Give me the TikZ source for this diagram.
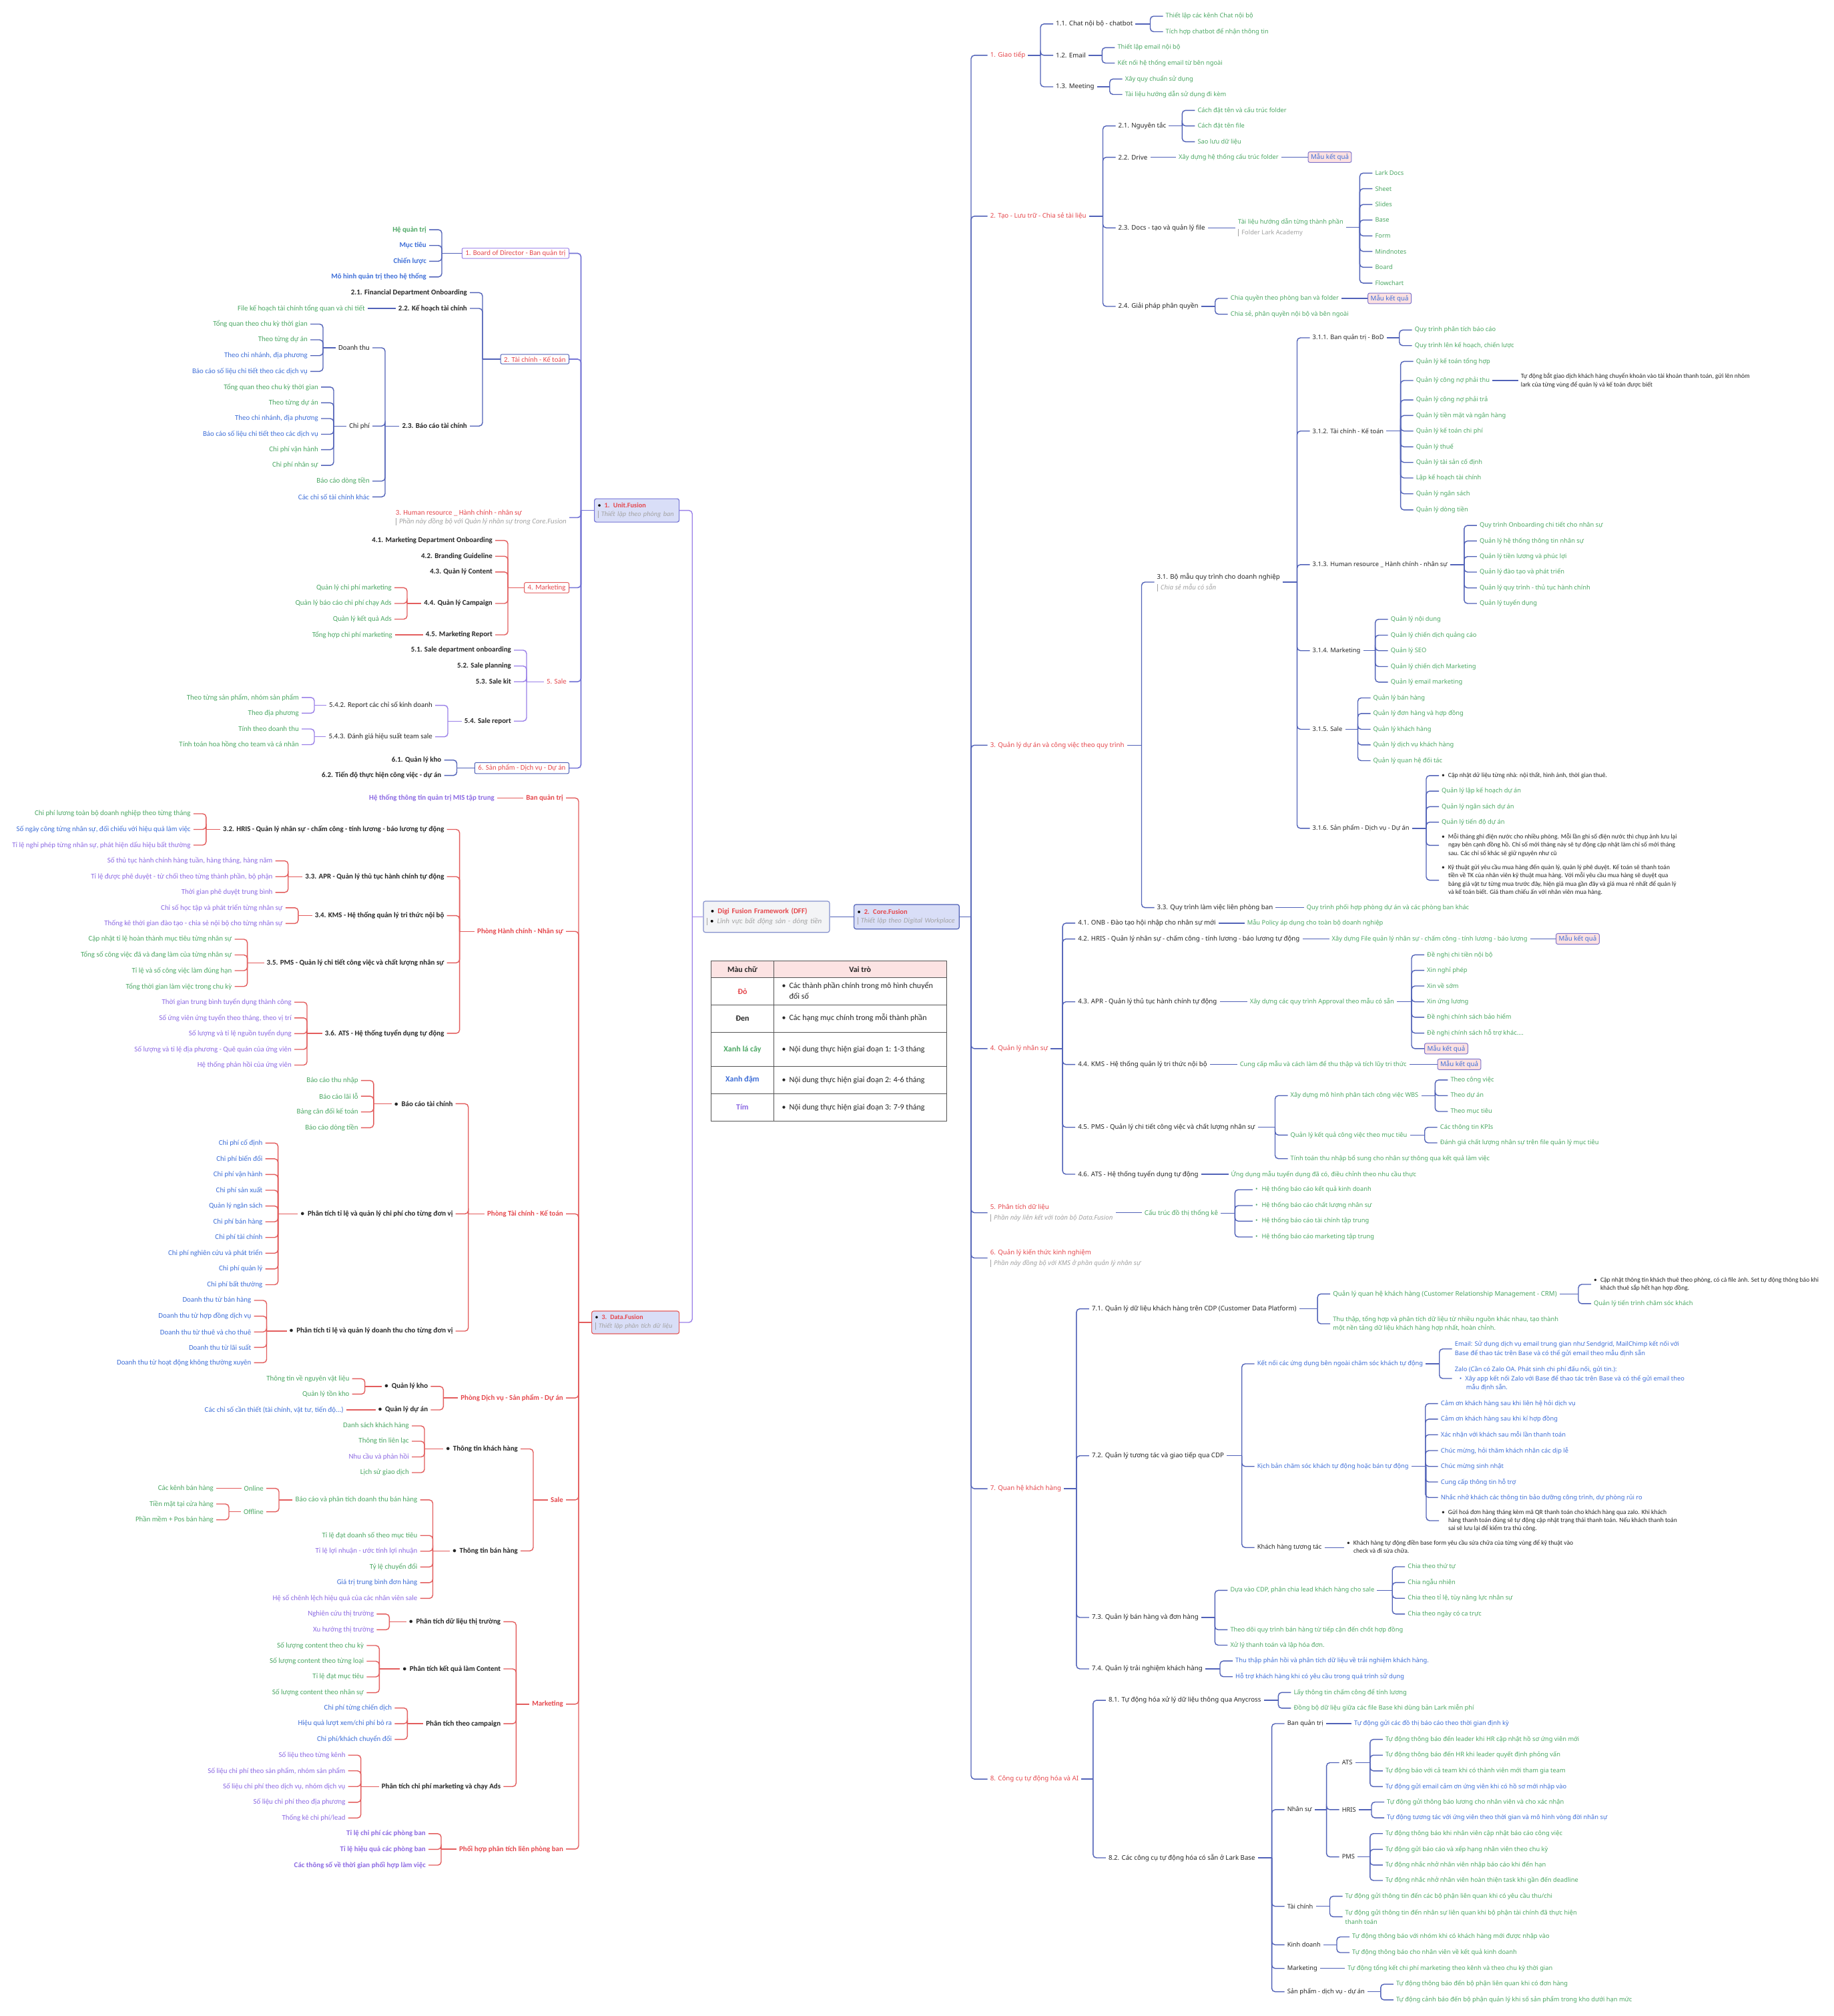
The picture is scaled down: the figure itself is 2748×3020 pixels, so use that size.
\documentclass[tikz,border=0pt]{standalone}
\usepackage{fontspec}
\setmainfont{Noto Sans}
\newfontfamily\carl{Carlito}
\usetikzlibrary{calc}

\definecolor{mred}{HTML}{E5484D}
\definecolor{mgreen}{HTML}{4DA865}
\definecolor{mblue}{HTML}{3F6FD8}
\definecolor{mpurple}{HTML}{8C6AE3}
\definecolor{mdark}{HTML}{262626}
\definecolor{mgray}{HTML}{A3A3A3}
\definecolor{lblue}{HTML}{5162B8}
\definecolor{lunit}{HTML}{7474D6}
\definecolor{lred}{HTML}{E35D5D}
\definecolor{lpurp}{HTML}{9A80E8}
\definecolor{hubfill}{HTML}{D9DEF7}
\definecolor{dfffill}{HTML}{F3F4F6}
\definecolor{kfill}{HTML}{FDE1E1}
\definecolor{kbord}{HTML}{7E74CC}
\definecolor{thead}{HTML}{FCE3E3}
\definecolor{tline}{HTML}{555555}

\newcommand{\lfont}{\carl\fontsize{10.9}{13}\selectfont}
\newcommand{\rfont}{\fontsize{9.3}{13.8}\selectfont}
\newcommand{\rbfont}{\fontsize{9.7}{13.8}\selectfont\bfseries}
\newcommand{\nfont}{\carl\fontsize{9.6}{12.3}\selectfont}
\newcommand{\tfont}{\carl\fontsize{12}{16}\selectfont}
\newcommand{\nbar}{{\color{mgray}\rule[-2.5pt]{1.2pt}{11pt}}\hspace{4pt}}
\newcommand{\bul}[1]{\begin{tabular}[t]{@{}l@{\hspace{5pt}}l@{}}\textbullet&\begin{tabular}[t]{@{}l@{}}#1\end{tabular}\end{tabular}}

% children to the right / to the left of a parent, bracket #1 away from them
\newcommand{\rkids}[4][19pt]{%
  \foreach \k [count=\kn] in {#4}{%
    \ifnum\kn=1 \draw[#2] (#3.east) -- ($(\k.west |- #3.east)+(-#1,0)$);\fi
    \draw[#2,rounded corners=5pt] ($(\k.west |- #3.east)+(-#1,0)$) |- (\k.west);}}
\newcommand{\lkids}[4][19pt]{%
  \foreach \k [count=\kn] in {#4}{%
    \ifnum\kn=1 \draw[#2] (#3.west) -- ($(\k.east |- #3.west)+(#1,0)$);\fi
    \draw[#2,rounded corners=5pt] ($(\k.east |- #3.west)+(#1,0)$) |- (\k.east);}}
\newcommand{\rlink}[3]{\draw[#1] (#2.east) -- (#2.east -| #3.west);}
\newcommand{\llink}[3]{\draw[#1] (#2.west) -- (#2.west -| #3.east);}

\tikzset{
  lt/.style={anchor=east, xshift=4pt, inner xsep=4pt, inner ysep=1pt, font=\lfont},
  ltb/.style={lt, font=\lfont\bfseries},
  rt/.style={anchor=west, xshift=-4pt, inner xsep=4pt, inner ysep=1pt, font=\rfont},
  rtb/.style={rt, font=\rbfont},
  note/.style={rt, font=\nfont, text=mdark},
  cr/.style={text=mred}, cg/.style={text=mgreen}, cb/.style={text=mblue},
  cp/.style={text=mpurple}, ck/.style={text=mdark},
  lnb/.style={draw=lblue, line width=1.4pt},
  lnu/.style={draw=lunit, line width=1.6pt},
  lnr/.style={draw=lred, line width=1.4pt},
  lnp/.style={draw=lpurp, line width=1.4pt},
  hub/.style={anchor=west, fill=hubfill, rounded corners=3pt, line width=1.2pt,
    inner xsep=5pt, inner ysep=3pt, align=left, font=\lfont},
  ubox/.style={anchor=east, fill=white, rounded corners=2pt, line width=1pt,
    text=mred, font=\lfont, inner xsep=5pt, inner ysep=3pt},
  kbox/.style={anchor=west, draw=kbord, fill=kfill, rounded corners=2.5pt, line width=1pt,
    text=mblue, font=\rbfont, inner xsep=4pt, inner ysep=2.5pt},
  tcell/.style={font=\tfont, text=mdark},
}

\begin{document}
\begin{tikzpicture}[x=1pt,y=-1pt]
\useasboundingbox (0,0) rectangle (2748,3020);
\fill[white] (0,0) rectangle (2748,3020);

% centre boxes
\node[hub, fill=dfffill, draw=lblue!70, text width=179pt, minimum height=46.7pt,
  font=\carl\fontsize{11}{15}\selectfont] (dff) at (1053.3,1373.3)
  {\hspace*{6pt}\textbullet\hspace{5pt}{\bfseries\color{mred}Digi Fusion Framework (DFF)}\\
   \nbar\textbullet\hspace{5pt}{\color{mgray}\itshape Lĩnh vực bất động sản - dòng tiền}};
\node[hub, draw=lblue, text width=147.7pt, minimum height=36.7pt,
  font=\carl\fontsize{10.5}{13}\selectfont] (core) at (1279,1373.3)
  {\textbullet\hspace{5pt}{\bfseries\color{mred}2. Core.Fusion}\\
   \nbar{\color{mgray}\itshape Thiết lập theo Digital Workplace}};
\node[hub, draw=lunit, text width=117pt, minimum height=35pt,
  font=\carl\fontsize{10.3}{13}\selectfont] (unit) at (890,764.6)
  {\textbullet\hspace{5pt}{\bfseries\color{mred}1. Unit.Fusion}\\
   \nbar{\color{mgray}\itshape Thiết lập theo phòng ban}};
\node[hub, draw=lred, text width=121pt, minimum height=34pt,
  font=\carl\fontsize{10}{13}\selectfont] (data) at (886,1981)
  {\textbullet\hspace{5pt}{\bfseries\color{mred}3. Data.Fusion}\\
   \nbar{\color{mgray}\itshape Thiết lập phân tích dữ liệu}};
\rlink{lnb}{dff}{core}
\lkids{lnp}{dff}{unit,data}

% legend table
\fill[thead] (1065.7,1439.3) rectangle (1418.3,1464.7);
\draw[tline, line width=1pt] (1065.7,1439.3) rectangle (1418.3,1679.3);
\draw[tline, line width=1pt] (1159,1439.3) -- (1159,1679.3);
\foreach \yy in {1464.7,1505,1546.3,1597.3,1638.3}
  \draw[tline, line width=1pt] (1065.7,\yy) -- (1418.3,\yy);
\node[tcell, font=\tfont\bfseries] (th1) at (1112.4,1452) {Màu chữ};
\node[tcell, font=\tfont\bfseries] (th2) at (1288.7,1452) {Vai trò};
\node[tcell, font=\tfont\bfseries, text=mred] (tc1) at (1112.4,1485.2) {Đỏ};
\node[tcell, font=\tfont\bfseries] (tc2) at (1112.4,1525.7) {Đen};
\node[tcell, font=\tfont\bfseries, text=mgreen] (tc3) at (1112.4,1571.8) {Xanh lá cây};
\node[tcell, font=\tfont\bfseries, text=mblue] (tc4) at (1112.4,1617.8) {Xanh đậm};
\node[tcell, font=\tfont\bfseries, text=mpurple] (tc5) at (1112.4,1658.8) {Tím};
\node[tcell, anchor=west] (tv1) at (1168,1485.2) {\bul{Các thành phần chính trong mô hình chuyển\\đổi số}};
\node[tcell, anchor=west] (tv2) at (1168,1525.7) {\bul{Các hạng mục chính trong mỗi thành phần}};
\node[tcell, anchor=west] (tv3) at (1168,1571.8) {\bul{Nội dung thực hiện giai đoạn 1: 1-3 tháng}};
\node[tcell, anchor=west] (tv4) at (1168,1617.8) {\bul{Nội dung thực hiện giai đoạn 2: 4-6 tháng}};
\node[tcell, anchor=west] (tv5) at (1168,1658.8) {\bul{Nội dung thực hiện giai đoạn 3: 7-9 tháng}};

% ===== Unit.Fusion =====
\node[ubox, draw=lpurp] (ub) at (853,379.5) {1. Board of Director - Ban quản trị};
\node[ubox, draw=lblue] (uf) at (853,538) {2. Tài chính - Kế toán};
\node[lt, cr, align=left] (uh) at (849,775.4) {3. Human resource \_ Hành chính - nhân sự\\
  \nbar{\color{mgray}\itshape Phần này đồng bộ với Quản lý nhân sự trong Core.Fusion}};
\node[ubox, draw=lred] (um) at (853,880.4) {4. Marketing};
\node[lt, cr] (us) at (849,1021.2) {5. Sale};
\node[ubox, draw=lblue] (up) at (853,1150.6) {6. Sản phẩm - Dịch vụ - Dự án};

\node[ltb, cg] (ub1) at (639,344.1) {Hệ quản trị};
\node[ltb, cb] (ub2) at (639,367.7) {Mục tiêu};
\node[ltb, cb] (ub3) at (639,391.3) {Chiến lược};
\node[ltb, cb] (ub4) at (639,414.8) {Mô hình quản trị theo hệ thống};

\node[ltb, ck] (uf1) at (700,438.4) {2.1. Financial Department Onboarding};
\node[ltb, ck] (uf2) at (700,462) {2.2. Kế hoạch tài chính};
\node[ltb, ck] (uf3) at (700,638.2) {2.3. Báo cáo tài chính};
\node[lt, cg] (uf21) at (547,462) {File kế hoạch tài chính tổng quan và chi tiết};
\node[lt, ck] (uf31) at (554,521) {Doanh thu};
\node[lt, ck] (uf32) at (554,638.2) {Chi phí};
\node[lt, cg] (uf33) at (554,720.7) {Báo cáo dòng tiền};
\node[lt, cb] (uf34) at (554,744.3) {Các chỉ số tài chính khác};
\node[lt, cg] (uf311) at (461,485.5) {Tổng quan theo chu kỳ thời gian};
\node[lt, cg] (uf312) at (461,509) {Theo từng dự án};
\node[lt, cb] (uf313) at (461,532.7) {Theo chi nhánh, địa phương};
\node[lt, cb] (uf314) at (461,556.3) {Báo cáo số liệu chi tiết theo các dịch vụ};
\node[lt, cg] (uf321) at (477,579.8) {Tổng quan theo chu kỳ thời gian};
\node[lt, cg] (uf322) at (477,603.4) {Theo từng dự án};
\node[lt, cb] (uf323) at (477,627) {Theo chi nhánh, địa phương};
\node[lt, cb] (uf324) at (477,650.5) {Báo cáo số liệu chi tiết theo các dịch vụ};
\node[lt, cg] (uf325) at (477,673.6) {Chi phí vận hành};
\node[lt, cg] (uf326) at (477,697.1) {Chi phí nhân sự};

\node[ltb, ck] (um1) at (738,809.6) {4.1. Marketing Department Onboarding};
\node[ltb, ck] (um2) at (738,833.2) {4.2. Branding Guideline};
\node[ltb, ck] (um3) at (738,856.8) {4.3. Quản lý Content};
\node[ltb, ck] (um4) at (738,904) {4.4. Quản lý Campaign};
\node[ltb, ck] (um5) at (738,951) {4.5. Marketing Report};
\node[lt, cg] (um41) at (587,880.4) {Quản lý chi phí marketing};
\node[lt, cg] (um42) at (587,904) {Quản lý báo cáo chi phí chạy Ads};
\node[lt, cg] (um43) at (587,927.5) {Quản lý kết quả Ads};
\node[lt, cg] (um51) at (588,951) {Tổng hợp chi phí marketing};

\node[ltb, ck] (us1) at (766,974) {5.1. Sale department onboarding};
\node[ltb, ck] (us2) at (766,997.7) {5.2. Sale planning};
\node[ltb, ck] (us3) at (766,1021.2) {5.3. Sale kit};
\node[ltb, ck] (us4) at (766,1080.2) {5.4. Sale report};
\node[lt, ck] (us41) at (648,1056.6) {5.4.2. Report các chỉ số kinh doanh};
\node[lt, ck] (us42) at (648,1103.7) {5.4.3. Đánh giá hiệu suất team sale};
\node[lt, cg] (us411) at (448,1044.8) {Theo từng sản phẩm, nhóm sản phẩm};
\node[lt, cg] (us412) at (448,1068.4) {Theo địa phương};
\node[lt, cg] (us421) at (448,1092) {Tính theo doanh thu};
\node[lt, cg] (us422) at (448,1115.5) {Tính toán hoa hồng cho team và cá nhân};

\node[ltb, ck] (up1) at (661.5,1138.6) {6.1. Quản lý kho};
\node[ltb, ck] (up2) at (661.5,1161.6) {6.2. Tiến độ thực hiện công việc - dự án};

\lkids[17.5pt]{lnu}{unit}{ub,uf,uh,um,us,up}
\lkids{lnb}{ub}{ub1,ub2,ub3,ub4}
\lkids{lnb}{uf}{uf1,uf2,uf3}
\llink{lnb}{uf2}{uf21}
\lkids{lnb}{uf3}{uf31,uf32,uf33,uf34}
\lkids{lnb}{uf31}{uf311,uf312,uf313,uf314}
\lkids{lnb}{uf32}{uf321,uf322,uf323,uf324,uf325,uf326}
\lkids{lnr}{um}{um1,um2,um3,um4,um5}
\lkids{lnr}{um4}{um41,um42,um43}
\llink{lnr}{um5}{um51}
\lkids{lnp}{us}{us1,us2,us3,us4}
\lkids{lnp}{us4}{us41,us42}
\lkids{lnp}{us41}{us411,us412}
\lkids{lnp}{us42}{us421,us422}
\lkids{lnb}{up}{up1,up2}

% ===== Data.Fusion =====
\node[ltb, cr] (dd1) at (844,1195.4) {Ban quản trị};
\node[ltb, cr] (dd2) at (844,1395.2) {Phòng Hành chính - Nhân sự};
\node[ltb, cr] (dd3) at (844,1818.4) {Phòng Tài chính - Kế toán};
\node[ltb, cr] (dd4) at (844,2094.1) {Phòng Dịch vụ - Sản phẩm - Dự án};
\node[ltb, cr] (dd5) at (844,2246.9) {Sale};
\node[ltb, cr] (dd6) at (844,2552.8) {Marketing};
\node[ltb, cr] (dd7) at (844,2769.9) {Phối hợp phân tích liên phòng ban};

\node[ltb, cp] (dd11) at (741,1195.4) {Hệ thống thông tin quản trị MIS tập trung};

\node[ltb, ck] (dd21) at (665.6,1242.5) {3.2. HRIS - Quản lý nhân sự - chấm công - tính lương - báo lương tự động};
\node[ltb, ck] (dd22) at (665.6,1313.2) {3.3. APR - Quản lý thủ tục hành chính tự động};
\node[ltb, ck] (dd23) at (665.6,1371.6) {3.4. KMS - Hệ thống quản lý tri thức nội bộ};
\node[ltb, ck] (dd24) at (665.6,1442.3) {3.5. PMS - Quản lý chi tiết công việc và chất lượng nhân sự};
\node[ltb, ck] (dd25) at (665.6,1547.9) {3.6. ATS - Hệ thống tuyển dụng tự động};
\node[lt, cg] (dd211) at (285.8,1219) {Chi phí lương toàn bộ doanh nghiệp theo từng tháng};
\node[lt, cb] (dd212) at (285.8,1242.5) {Số ngày công từng nhân sự, đối chiếu với hiệu quả làm việc};
\node[lt, cp] (dd213) at (285.8,1266) {Tỉ lệ nghỉ phép từng nhân sự, phát hiện dấu hiệu bất thường};
\node[lt, cp] (dd221) at (408.7,1289.6) {Số thủ tục hành chính hàng tuần, hàng tháng, hàng năm};
\node[lt, cp] (dd222) at (408.7,1313.2) {Tỉ lệ được phê duyệt - từ chối theo từng thành phần, bộ phận};
\node[lt, cp] (dd223) at (408.7,1336.8) {Thời gian phê duyệt trung bình};
\node[lt, cp] (dd231) at (423.8,1359.8) {Chỉ số học tập và phát triển từng nhân sự};
\node[lt, cp] (dd232) at (423.8,1383.4) {Thống kê thời gian đào tạo - chia sẻ nội bộ cho từng nhân sự};
\node[lt, cg] (dd241) at (347.6,1407) {Cập nhật tỉ lệ hoàn thành mục tiêu từng nhân sự};
\node[lt, cg] (dd242) at (347.6,1430.5) {Tổng số công việc đã và đang làm của từng nhân sự};
\node[lt, cg] (dd243) at (347.6,1454) {Tỉ lệ và số công việc làm đúng hạn};
\node[lt, cg] (dd244) at (347.6,1477.7) {Tổng thời gian làm việc trong chu kỳ};
\node[lt, cp] (dd251) at (437,1501.2) {Thời gian trung bình tuyển dụng thành công};
\node[lt, cp] (dd252) at (437,1524.8) {Số ứng viên ứng tuyển theo tháng, theo vị trí};
\node[lt, cp] (dd253) at (437,1548.4) {Số lượng và tỉ lệ nguồn tuyển dụng};
\node[lt, cp] (dd254) at (437,1572) {Số lượng và tỉ lệ địa phương - Quê quán của ứng viên};
\node[lt, cp] (dd255) at (437,1595.5) {Hệ thống phản hồi của ứng viên};

\node[ltb, ck] (dd31) at (678.7,1653.4) {\textbullet\hspace{5pt}Báo cáo tài chính};
\node[ltb, ck] (dd32) at (678.7,1818.4) {\textbullet\hspace{5pt}Phân tích tỉ lệ và quản lý chi phí cho từng đơn vị};
\node[ltb, ck] (dd33) at (678.7,1994) {\textbullet\hspace{5pt}Phân tích tỉ lệ và quản lý doanh thu cho từng đơn vị};
\node[lt, cg] (dd311) at (536.8,1618.6) {Báo cáo thu nhập};
\node[lt, cg] (dd312) at (536.8,1642.1) {Báo cáo lãi lỗ};
\node[lt, cg] (dd313) at (536.8,1665.7) {Bảng cân đối kế toán};
\node[lt, cg] (dd314) at (536.8,1689.3) {Báo cáo dòng tiền};
\node[lt, cb] (dd321) at (393.6,1712.3) {Chi phí cố định};
\node[lt, cb] (dd322) at (393.6,1735.9) {Chi phí biến đổi};
\node[lt, cb] (dd323) at (393.6,1759.4) {Chi phí vận hành};
\node[lt, cb] (dd324) at (393.6,1783) {Chi phí sản xuất};
\node[lt, cb] (dd325) at (393.6,1806.6) {Quản lý ngân sách};
\node[lt, cb] (dd326) at (393.6,1830.2) {Chi phí bán hàng};
\node[lt, cb] (dd327) at (393.6,1853.7) {Chi phí tài chính};
\node[lt, cb] (dd328) at (393.6,1877.3) {Chi phí nghiên cứu và phát triển};
\node[lt, cb] (dd329) at (393.6,1900.9) {Chi phí quản lý};
\node[lt, cb] (dd3210) at (393.6,1924.5) {Chi phí bất thường};
\node[lt, cb] (dd331) at (376.5,1948) {Doanh thu từ bán hàng};
\node[lt, cb] (dd332) at (376.5,1971.6) {Doanh thu từ hợp đồng dịch vụ};
\node[lt, cb] (dd333) at (376.5,1995.2) {Doanh thu từ thuê và cho thuê};
\node[lt, cb] (dd334) at (376.5,2018.3) {Doanh thu từ lãi suất};
\node[lt, cb] (dd335) at (376.5,2041.3) {Doanh thu từ hoạt động không thường xuyên};

\node[ltb, ck] (dd41) at (641.3,2076.9) {\textbullet\hspace{5pt}Quản lý kho};
\node[ltb, ck] (dd42) at (641.3,2112) {\textbullet\hspace{5pt}Quản lý dự án};
\node[lt, cg] (dd411) at (523.7,2065.4) {Thông tin về nguyên vật liệu};
\node[lt, cg] (dd412) at (523.7,2088.4) {Quản lý tồn kho};
\node[lt, cb] (dd421) at (515,2112) {Các chỉ số cần thiết (tài chính, vật tư, tiến độ...)};

\node[ltb, ck] (dd51) at (776,2170.5) {\textbullet\hspace{5pt}Thông tin khách hàng};
\node[ltb, ck] (dd52) at (776,2323.2) {\textbullet\hspace{5pt}Thông tin bán hàng};
\node[lt, cg] (dd511) at (613,2136) {Danh sách khách hàng};
\node[lt, cg] (dd512) at (613,2159) {Thông tin liên lạc};
\node[lt, cp] (dd513) at (613,2182.5) {Nhu cầu và phản hồi};
\node[lt, cg] (dd514) at (613,2206) {Lịch sử giao dịch};
\node[lt, cg] (dd521) at (625.5,2246.9) {Báo cáo và phân tích doanh thu bán hàng};
\node[lt, cg] (dd522) at (625.5,2300.2) {Tỉ lệ đạt doanh số theo mục tiêu};
\node[lt, cp] (dd523) at (625.5,2323.7) {Tỉ lệ lợi nhuận - ước tính lợi nhuận};
\node[lt, cg] (dd524) at (625.5,2347.3) {Tỷ lệ chuyển đổi};
\node[lt, cb] (dd525) at (625.5,2370.8) {Giá trị trung bình đơn hàng};
\node[lt, cp] (dd526) at (625.5,2394.4) {Hệ số chênh lệch hiệu quả của các nhân viên sale};
\node[lt, cg] (dd5211) at (395,2229.6) {Online};
\node[lt, cg] (dd5212) at (395,2264.6) {Offline};
\node[lt, cg] (dd5213) at (320,2229.6) {Các kênh bán hàng};
\node[lt, cg] (dd5214) at (320,2253) {Tiền mặt tại cửa hàng};
\node[lt, cg] (dd5215) at (320,2276.7) {Phần mềm + Pos bán hàng};

\node[ltb, ck] (dd61) at (750.3,2429.4) {\textbullet\hspace{5pt}Phân tích dữ liệu thị trường};
\node[ltb, ck] (dd62) at (750.3,2500) {\textbullet\hspace{5pt}Phân tích kết quả làm Content};
\node[ltb, ck] (dd63) at (750.3,2582.1) {Phân tích theo campaign};
\node[ltb, ck] (dd64) at (750.3,2676.2) {Phân tích chi phí marketing và chạy Ads};
\node[lt, cp] (dd611) at (560.4,2417.9) {Nghiên cứu thị trường};
\node[lt, cp] (dd612) at (560.4,2441.4) {Xu hướng thị trường};
\node[lt, cg] (dd621) at (545.3,2465) {Số lượng content theo chu kỳ};
\node[lt, cg] (dd622) at (545.3,2488.5) {Số lượng content theo từng loại};
\node[lt, cg] (dd623) at (545.3,2512) {Tỉ lệ đạt mục tiêu};
\node[lt, cg] (dd624) at (545.3,2535.6) {Số lượng content theo nhân sự};
\node[lt, cb] (dd631) at (587.4,2558.6) {Chi phí từng chiến dịch};
\node[lt, cb] (dd632) at (587.4,2582.1) {Hiệu quả lượt xem/chi phí bỏ ra};
\node[lt, cb] (dd633) at (587.4,2605.6) {Chi phí/khách chuyển đổi};
\node[lt, cp] (dd641) at (517.7,2629.2) {Số liệu theo từng kênh};
\node[lt, cp] (dd642) at (517.7,2652.7) {Số liệu chi phí theo sản phẩm, nhóm sản phẩm};
\node[lt, cp] (dd643) at (517.7,2676.2) {Số liệu chi phí theo dịch vụ, nhóm dịch vụ};
\node[lt, cp] (dd644) at (517.7,2699.8) {Số liệu chi phí theo địa phương};
\node[lt, cp] (dd645) at (517.7,2723.3) {Thống kê chi phí/lead};

\node[ltb, cp] (dd71) at (638,2746.9) {Tỉ lệ chi phí các phòng ban};
\node[ltb, cp] (dd72) at (638,2770.4) {Tỉ lệ hiệu quả các phòng ban};
\node[ltb, cp] (dd73) at (638,2794) {Các thông số về thời gian phối hợp làm việc};

\lkids{lnr}{data}{dd1,dd2,dd3,dd4,dd5,dd6,dd7}
\llink{lnr}{dd1}{dd11}
\lkids{lnr}{dd2}{dd21,dd22,dd23,dd24,dd25}
\lkids{lnr}{dd21}{dd211,dd212,dd213}
\lkids{lnr}{dd22}{dd221,dd222,dd223}
\lkids{lnr}{dd23}{dd231,dd232}
\lkids{lnr}{dd24}{dd241,dd242,dd243,dd244}
\lkids{lnr}{dd25}{dd251,dd252,dd253,dd254,dd255}
\lkids{lnr}{dd3}{dd31,dd32,dd33}
\lkids{lnr}{dd31}{dd311,dd312,dd313,dd314}
\lkids{lnr}{dd32}{dd321,dd322,dd323,dd324,dd325,dd326,dd327,dd328,dd329,dd3210}
\lkids{lnr}{dd33}{dd331,dd332,dd333,dd334,dd335}
\lkids{lnr}{dd4}{dd41,dd42}
\lkids{lnr}{dd41}{dd411,dd412}
\llink{lnr}{dd42}{dd421}
\lkids{lnr}{dd5}{dd51,dd52}
\lkids{lnr}{dd51}{dd511,dd512,dd513,dd514}
\lkids{lnr}{dd52}{dd521,dd522,dd523,dd524,dd525,dd526}
\lkids{lnr}{dd521}{dd5211,dd5212}
\llink{lnr}{dd5211}{dd5213}
\lkids{lnr}{dd5212}{dd5214,dd5215}
\lkids{lnr}{dd6}{dd61,dd62,dd63,dd64}
\lkids{lnr}{dd61}{dd611,dd612}
\lkids{lnr}{dd62}{dd621,dd622,dd623,dd624}
\lkids{lnr}{dd63}{dd631,dd632,dd633}
\lkids{lnr}{dd64}{dd641,dd642,dd643,dd644,dd645}
\lkids{lnr}{dd7}{dd71,dd72,dd73}

% ===== Core.Fusion =====
\node[rtb, cr] (c1) at (1483.7,82.9) {1. Giao tiếp};
\node[rtb, cr] (c2) at (1483.7,323.8) {2. Tạo - Lưu trữ - Chia sẻ tài liệu};
\node[rtb, cr] (c3) at (1483.7,1116.3) {3. Quản lý dự án và công việc theo quy trình};
\node[rtb, cr] (c4) at (1483.7,1570.9) {4. Quản lý nhân sự};
\node[rtb, cr, align=left] (c5) at (1483.7,1816.7) {5. Phân tích dữ liệu\\[2pt]
  \nbar{\color{mgray}\mdseries\itshape Phần này liên kết với toàn bộ Data.Fusion}};
\node[rtb, cr, align=left] (c6) at (1483.7,1884.5) {6. Quản lý kiến thức kinh nghiệm\\[2pt]
  \nbar{\color{mgray}\mdseries\itshape Phần này đồng bộ với KMS ở phần quản lý nhân sự}};
\node[rtb, cr] (c7) at (1483.7,2230.1) {7. Quan hệ khách hàng};
\node[rtb, cr] (c8) at (1483.7,2665.1) {8. Công cụ tự động hóa và AI};

% 1
\node[rtb, ck] (c11) at (1582,35.9) {1.1. Chat nội bộ - chatbot};
\node[rtb, ck] (c12) at (1582,82.9) {1.2. Email};
\node[rtb, ck] (c13) at (1582,130) {1.3. Meeting};
\node[rt, cg] (c111) at (1746.5,24.2) {Thiết lập các kênh Chat nội bộ};
\node[rt, cg] (c112) at (1746.5,47.5) {Tích hợp chatbot để nhận thông tin};
\node[rt, cg] (c121) at (1674.3,71.3) {Thiết lập email nội bộ};
\node[rt, cg] (c122) at (1674.3,94.5) {Kết nối hệ thống email từ bên ngoài};
\node[rt, cg] (c131) at (1685.7,118.3) {Xây quy chuẩn sử dụng};
\node[rt, cg] (c132) at (1685.7,141.5) {Tài liệu hướng dẫn sử dụng đi kèm};

% 2
\node[rtb, ck] (c21) at (1675.5,188.6) {2.1. Nguyên tắc};
\node[rtb, ck] (c22) at (1675.5,235.6) {2.2. Drive};
\node[rtb, ck] (c23) at (1675.5,341.3) {2.3. Docs - tạo và quản lý file};
\node[rtb, ck] (c24) at (1675.5,459) {2.4. Giải pháp phân quyền};
\node[rt, cg] (c211) at (1794.3,165.3) {Cách đặt tên và cấu trúc folder};
\node[rt, cg] (c212) at (1794.3,188.6) {Cách đặt tên file};
\node[rt, cg] (c213) at (1794.3,212.3) {Sao lưu dữ liệu};
\node[rt, cg] (c221) at (1766,235.6) {Xây dựng hệ thống cấu trúc folder};
\node[kbox] (k1) at (1959.6,235.4) {Mẫu kết quả};
\node[rt, cg, align=left, font=\fontsize{9.3}{16}\selectfont] (c231) at (1855,340.5) {Tài liệu hướng dẫn từng thành phần\\
  \nbar{\color{mgray}Folder Lark Academy}};
\node[rt, cg] (c2311) at (2060.4,259.3) {Lark Docs};
\node[rt, cg] (c2312) at (2060.4,282.6) {Sheet};
\node[rt, cg] (c2313) at (2060.4,306.3) {Slides};
\node[rt, cg] (c2314) at (2060.4,329.6) {Base};
\node[rt, cg] (c2315) at (2060.4,353.4) {Form};
\node[rt, cg] (c2316) at (2060.4,376.6) {Mindnotes};
\node[rt, cg] (c2317) at (2060.4,400.4) {Board};
\node[rt, cg] (c2318) at (2060.4,424.1) {Flowchart};
\node[rt, cg] (c241) at (1843.7,447) {Chia quyền theo phòng ban và folder};
\node[rt, cg] (c242) at (1843.7,470.7) {Chia sẻ, phân quyền nội bộ và bên ngoài};
\node[kbox] (k2) at (2049.2,447) {Mẫu kết quả};

% 3
\node[rtb, ck, align=left, font=\fontsize{9.7}{16}\selectfont\bfseries] (c31) at (1733.5,872) {3.1. Bộ mẫu quy trình cho doanh nghiệp\\
  \nbar{\color{mgray}\mdseries\itshape Chia sẻ mẫu có sẵn}};
\node[rtb, ck] (c33) at (1733.5,1359.6) {3.3. Quy trình làm việc liên phòng ban};
\node[rt, cg] (c331) at (1957.6,1359.6) {Quy trình phối hợp phòng dự án và các phòng ban khác};
\node[rt, ck] (c311) at (1966.5,506) {3.1.1. Ban quản trị - BoD};
\node[rt, ck] (c312) at (1966.5,645.7) {3.1.2. Tài chính - Kế toán};
\node[rt, ck] (c313) at (1966.5,845.8) {3.1.3. Human resource \_ Hành chính - nhân sự};
\node[rt, ck] (c314) at (1966.5,974.7) {3.1.4. Marketing};
\node[rt, ck] (c315) at (1966.5,1092.5) {3.1.5. Sale};
\node[rt, ck] (c316) at (1966.5,1240.9) {3.1.6. Sản phẩm - Dịch vụ - Dự án};
\node[rt, cg] (c3111) at (2119.7,494.4) {Quy trình phân tích báo cáo};
\node[rt, cg] (c3112) at (2119.7,517.7) {Quy trình lên kế hoạch, chiến lược};
\node[rt, cg] (c3121) at (2121.6,541.4) {Quản lý kế toán tổng hợp};
\node[rt, cg] (c3122) at (2121.6,570) {Quản lý công nợ phải thu};
\node[rt, cg] (c3123) at (2121.6,599.1) {Quản lý công nợ phải trả};
\node[rt, cg] (c3124) at (2121.6,622.4) {Quản lý tiền mặt và ngân hàng};
\node[rt, cg] (c3125) at (2121.6,645.7) {Quản lý kế toán chi phí};
\node[rt, cg] (c3126) at (2121.6,669.4) {Quản lý thuế};
\node[rt, cg] (c3127) at (2121.6,692.7) {Quản lý tài sản cố định};
\node[rt, cg] (c3128) at (2121.6,716) {Lập kế hoạch tài chính};
\node[rt, cg] (c3129) at (2121.6,739.7) {Quản lý ngân sách};
\node[rt, cg] (c31210) at (2121.6,763.9) {Quản lý dòng tiền};
\node[note, align=left] (n3122) at (2278.6,570) {Tự động bắt giao dịch khách hàng chuyển khoản vào tài khoản thanh toán, gửi lên nhóm\\
  lark của từng vùng để quản lý và kế toán được biết};
\node[rt, cg] (c3131) at (2216.8,787.1) {Quy trình Onboarding chi tiết cho nhân sự};
\node[rt, cg] (c3132) at (2216.8,810.4) {Quản lý hệ thống thông tin nhân sự};
\node[rt, cg] (c3133) at (2216.8,833.7) {Quản lý tiền lương và phúc lợi};
\node[rt, cg] (c3134) at (2216.8,857) {Quản lý đào tạo và phát triển};
\node[rt, cg] (c3135) at (2216.8,880.7) {Quản lý quy trình - thủ tục hành chính};
\node[rt, cg] (c3136) at (2216.8,904) {Quản lý tuyển dụng};
\node[rt, cg] (c3141) at (2083.6,927.7) {Quản lý nội dung};
\node[rt, cg] (c3142) at (2083.6,951.5) {Quản lý chiến dịch quảng cáo};
\node[rt, cg] (c3143) at (2083.6,974.7) {Quản lý SEO};
\node[rt, cg] (c3144) at (2083.6,998.5) {Quản lý chiến dịch Marketing};
\node[rt, cg] (c3145) at (2083.6,1021.8) {Quản lý email marketing};
\node[rt, cg] (c3151) at (2057.5,1045.5) {Quản lý bán hàng};
\node[rt, cg] (c3152) at (2057.5,1068.8) {Quản lý đơn hàng và hợp đồng};
\node[rt, cg] (c3153) at (2057.5,1092.5) {Quản lý khách hàng};
\node[rt, cg] (c3154) at (2057.5,1115.8) {Quản lý dịch vụ khách hàng};
\node[rt, cg] (c3155) at (2057.5,1139.5) {Quản lý quan hệ đối tác};
\node[note] (c3161) at (2160,1161.8) {\bul{Cập nhật dữ liệu từng nhà: nội thất, hình ảnh, thời gian thuê.}};
\node[rt, cg] (c3162) at (2160,1185.1) {Quản lý lập kế hoạch dự án};
\node[rt, cg] (c3163) at (2160,1208.4) {Quản lý ngân sách dự án};
\node[rt, cg] (c3164) at (2160,1231.6) {Quản lý tiến độ dự án};
\node[note] (c3165) at (2160,1266.4) {\bul{Mỗi tháng ghi điện nước cho nhiều phòng. Mỗi lần ghi số điện nước thì chụp ảnh lưu lại\\
  ngay bên cạnh đồng hồ. Chỉ số mới tháng này sẽ tự động cập nhật làm chỉ số mới tháng\\
  sau. Các chỉ số khác sẽ giữ nguyên như cũ}};
\node[note] (c3166) at (2160,1318.6) {\bul{Kỹ thuật gửi yêu cầu mua hàng đến quản lý, quản lý phê duyệt. Kế toán sẽ thanh toán\\
  tiền về TK của nhân viên kỹ thuật mua hàng. Với mỗi yêu cầu mua hàng sẽ duyệt qua\\
  bảng giá vật tư từng mua trước đây, hiện giá mua gần đây và giá mua rẻ nhất để quản lý\\
  và kế toán biết. Giá tham chiếu ấn với nhân viên mua hàng.}};

% 4
\node[rtb, ck] (c41) at (1615.1,1382.9) {4.1. ONB - Đào tạo hội nhập cho nhân sự mới};
\node[rtb, ck] (c42) at (1615.1,1406.6) {4.2. HRIS - Quản lý nhân sự - chấm công - tính lương - báo lương tự động};
\node[rtb, ck] (c43) at (1615.1,1500.7) {4.3. APR - Quản lý thủ tục hành chính tự động};
\node[rtb, ck] (c44) at (1615.1,1594.6) {4.4. KMS - Hệ thống quản lý tri thức nội bộ};
\node[rtb, ck] (c45) at (1615.1,1688.7) {4.5. PMS - Quản lý chi tiết công việc và chất lượng nhân sự};
\node[rtb, ck] (c46) at (1615.1,1759) {4.6. ATS - Hệ thống tuyển dụng tự động};
\node[rt, cg] (c411) at (1868.6,1382.9) {Mẫu Policy áp dụng cho toàn bộ doanh nghiệp};
\node[rt, cg] (c421) at (1995.5,1406.6) {Xây dựng File quản lý nhân sự - chấm công - tính lương - báo lương};
\node[kbox] (k3) at (2331,1406.4) {Mẫu kết quả};
\node[rt, cg] (c431) at (1872.7,1500.7) {Xây dựng các quy trình Approval theo mẫu có sẵn};
\node[rt, cg] (c4311) at (2138,1430.4) {Đề nghị chi tiền nội bộ};
\node[rt, cg] (c4312) at (2138,1453.6) {Xin nghỉ phép};
\node[rt, cg] (c4313) at (2138,1477) {Xin về sớm};
\node[rt, cg] (c4314) at (2138,1500.7) {Xin ứng lương};
\node[rt, cg] (c4315) at (2138,1523.9) {Đề nghị chính sách bảo hiểm};
\node[rt, cg] (c4316) at (2138,1547.6) {Đề nghị chính sách hỗ trợ khác....};
\node[kbox] (k4) at (2134,1570.9) {Mẫu kết quả};
\node[rt, cg] (c441) at (1857.6,1594.6) {Cung cấp mẫu và cách làm để thu thập và tích lũy tri thức};
\node[kbox] (k5) at (2153.6,1594.4) {Mẫu kết quả};
\node[rt, cg] (c451) at (1933.5,1641.2) {Xây dựng mô hình phân tách công việc WBS};
\node[rt, cg] (c452) at (1933.5,1700.3) {Quản lý kết quả công việc theo mục tiêu};
\node[rt, cg] (c453) at (1933.5,1735.7) {Tính toán thu nhập bổ sung cho nhân sự thông qua kết quả làm việc};
\node[rt, cg] (c4511) at (2173.3,1617.9) {Theo công việc};
\node[rt, cg] (c4512) at (2173.3,1641.2) {Theo dự án};
\node[rt, cg] (c4513) at (2173.3,1665) {Theo mục tiêu};
\node[rt, cg] (c4521) at (2157.7,1688.7) {Các thông tin KPIs};
\node[rt, cg] (c4522) at (2157.7,1712) {Đánh giá chất lượng nhân sự trên file quản lý mục tiêu};
\node[rt, cg] (c461) at (1844.5,1759) {Ứng dụng mẫu tuyển dụng đã có, điều chỉnh theo nhu cầu thực};

% 5
\node[rtb, cg] (c51) at (1714.7,1817.6) {Cấu trúc đồ thị thống kê};
\node[rt, cg] (c511) at (1880.8,1782.2) {\textbullet\hspace{6pt}Hệ thống báo cáo kết quả kinh doanh};
\node[rt, cg] (c512) at (1880.8,1806) {\textbullet\hspace{6pt}Hệ thống báo cáo chất lượng nhân sự};
\node[rt, cg] (c513) at (1880.8,1829.3) {\textbullet\hspace{6pt}Hệ thống báo cáo tài chính tập trung};
\node[rt, cg] (c514) at (1880.8,1853) {\textbullet\hspace{6pt}Hệ thống báo cáo marketing tập trung};

% 7
\node[rtb, ck] (c71) at (1635.9,1960.6) {7.1. Quản lý dữ liệu khách hàng trên CDP (Customer Data Platform)};
\node[rtb, ck] (c72) at (1635.9,2180.7) {7.2. Quản lý tương tác và giao tiếp qua CDP};
\node[rtb, ck] (c73) at (1635.9,2423) {7.3. Quản lý bán hàng và đơn hàng};
\node[rtb, ck] (c74) at (1635.9,2500) {7.4. Quản lý trải nghiệm khách hàng};
\node[rtb, cg] (c711) at (1997.1,1938.3) {Quản lý quan hệ khách hàng (Customer Relationship Management - CRM)};
\node[rt, cg, align=left] (c712) at (1997.1,1983) {Thu thập, tổng hợp và phân tích dữ liệu từ nhiều nguồn khác nhau, tạo thành\\
  một nền tảng dữ liệu khách hàng hợp nhất, hoàn chỉnh.};
\node[note] (c7111) at (2388,1924) {\bul{Cập nhật thông tin khách thuê theo phòng, có cả file ảnh. Set tự động thông báo khi\\
  khách thuê sắp hết hạn hợp đồng.}};
\node[rt, cg] (c7112) at (2388,1952.9) {Quản lý tiến trình chăm sóc khách};
\node[rt, cb] (c721) at (1883.7,2043) {Kết nối các ứng dụng bên ngoài chăm sóc khách tự động};
\node[rt, cb] (c722) at (1883.7,2196.7) {Kịch bản chăm sóc khách tự động hoặc bán tự động};
\node[rt, ck] (c723) at (1883.7,2318.2) {Khách hàng tương tác};
\node[rt, cb, align=left] (c7211) at (2179.7,2020.7) {Email: Sử dụng dịch vụ email trung gian như Sendgrid, MailChimp kết nối với\\
  Base để thao tác trên Base và có thể gửi email theo mẫu định sẵn};
\node[rt, cb, align=left] (c7212) at (2179.7,2065) {Zalo (Cần có Zalo OA. Phát sinh chi phí đấu nối, gửi tin.):\\
  \hspace*{7pt}\textbullet\hspace{5pt}Xây app kết nối Zalo với Base để thao tác trên Base và có thể gửi email theo\\
  \hspace*{17pt}mẫu định sẵn.};
\node[rt, cb] (c7221) at (2158.7,2102.6) {Cảm ơn khách hàng sau khi liên hệ hỏi dịch vụ};
\node[rt, cb] (c7222) at (2158.7,2125.9) {Cảm ơn khách hàng sau khi kí hợp đồng};
\node[rt, cb] (c7223) at (2158.7,2149.2) {Xác nhận với khách sau mỗi lần thanh toán};
\node[rt, cb] (c7224) at (2158.7,2173) {Chúc mừng, hỏi thăm khách nhân các dịp lễ};
\node[rt, cb] (c7225) at (2158.7,2196.7) {Chúc mừng sinh nhật};
\node[rt, cb] (c7226) at (2158.7,2220) {Cung cấp thông tin hỗ trợ};
\node[rt, cb] (c7227) at (2158.7,2243.2) {Nhắc nhở khách các thông tin bảo dưỡng công trình, dự phòng rủi ro};
\node[note] (c7228) at (2160,2278) {\bul{Gửi hoá đơn hàng tháng kèm mã QR thanh toán cho khách hàng qua zalo. Khi khách\\
  hàng thanh toán đúng sẽ tự động cập nhật trạng thái thanh toán. Nếu khách thanh toán\\
  sai sẽ lưu lại để kiểm tra thủ công.}};
\node[note] (c7231) at (2018,2318.2) {\bul{Khách hàng tự động điền base form yêu cầu sửa chữa của từng vùng để kỹ thuật vào\\
  check và đi sửa chữa.}};
\node[rt, cg] (c731) at (1843.3,2382.4) {Dựa vào CDP, phân chia lead khách hàng cho sale};
\node[rt, cg] (c732) at (1843.3,2441.4) {Theo dõi quy trình bán hàng từ tiếp cận đến chốt hợp đồng};
\node[rt, cg] (c733) at (1843.3,2464.5) {Xử lý thanh toán và lập hóa đơn.};
\node[rt, cg] (c7311) at (2109.2,2347) {Chia theo thứ tự};
\node[rt, cg] (c7312) at (2109.2,2370.6) {Chia ngẫu nhiên};
\node[rt, cg] (c7313) at (2109.2,2394.2) {Chia theo tỉ lệ, tùy năng lực nhân sự};
\node[rt, cg] (c7314) at (2109.2,2417.8) {Chia theo ngày có ca trực};
\node[rt, cb] (c741) at (1851,2488.1) {Thu thập phản hồi và phân tích dữ liệu về trải nghiệm khách hàng.};
\node[rt, cb] (c742) at (1851,2511.7) {Hỗ trợ khách hàng khi có yêu cầu trong quá trình sử dụng};

% 8
\node[rtb, ck] (c81) at (1660.8,2547.1) {8.1. Tự động hóa xử lý dữ liệu thông qua Anycross};
\node[rtb, ck] (c82) at (1660.8,2783) {8.2. Các công cụ tự động hóa có sẵn ở Lark Base};
\node[rt, cg] (c811) at (1938.4,2535.3) {Lấy thông tin chấm công để tính lương};
\node[rt, cg] (c812) at (1938.4,2558.9) {Đồng bộ dữ liệu giữa các file Base khi dùng bản Lark miễn phí};
\node[rt, ck] (c821) at (1928.6,2582) {Ban quản trị};
\node[rt, ck] (c822) at (1928.6,2710.9) {Nhân sự};
\node[rt, ck] (c823) at (1928.6,2855.7) {Tài chính};
\node[rt, ck] (c824) at (1928.6,2913.3) {Kinh doanh};
\node[rt, ck] (c825) at (1928.6,2948.7) {Marketing};
\node[rt, ck] (c826) at (1928.6,2983.6) {Sản phẩm - dịch vụ - dự án};
\node[rt, cb] (c8211) at (2029,2582) {Tự động gửi các đồ thị báo cáo theo thời gian định kỳ};
\node[rt, ck] (c8221) at (2010.6,2640.5) {ATS};
\node[rt, ck] (c8222) at (2010.6,2710.9) {HRIS};
\node[rt, ck] (c8223) at (2010.6,2781.6) {PMS};
\node[rt, cg] (c82211) at (2075.8,2605.6) {Tự động thông báo đến leader khi HR cập nhật hồ sơ ứng viên mới};
\node[rt, cg] (c82212) at (2075.8,2629.2) {Tự động thông báo đến HR khi leader quyết định phỏng vấn};
\node[rt, cg] (c82213) at (2075.8,2652.8) {Tự động báo với cả team khi có thành viên mới tham gia team};
\node[rt, cb] (c82214) at (2075.8,2676.4) {Tự động gửi email cảm ơn ứng viên khi có hồ sơ mới nhập vào};
\node[rt, cg] (c82221) at (2078,2699.5) {Tự động gửi thông báo lương cho nhân viên và cho xác nhận};
\node[rt, cb] (c82222) at (2078,2723.1) {Tự động tương tác với ứng viên theo thời gian và mô hình vòng đời nhân sự};
\node[rt, cg] (c82231) at (2075.8,2746.7) {Tự động thông báo khi nhân viên cập nhật báo cáo công việc};
\node[rt, cg] (c82232) at (2075.8,2770.3) {Tự động gửi báo cáo và xếp hạng nhân viên theo chu kỳ};
\node[rt, cg] (c82233) at (2075.8,2793.9) {Tự động nhắc nhở nhân viên nhập báo cáo khi đến hạn};
\node[rt, cg] (c82234) at (2075.8,2817) {Tự động nhắc nhở nhân viên hoàn thiện task khi gần đến deadline};
\node[rt, cg] (c8231) at (2015.5,2840.6) {Tự động gửi thông tin đến các bộ phận liên quan khi có yêu cầu thu/chi};
\node[rt, cg, align=left] (c8232) at (2015.5,2871.3) {Tự động gửi thông tin đến nhân sự liên quan khi bộ phận tài chính đã thực hiện\\thanh toán};
\node[rt, cg] (c8241) at (2026,2901.5) {Tự động thông báo với nhóm khi có khách hàng mới được nhập vào};
\node[rt, cg] (c8242) at (2026,2925) {Tự động thông báo cho nhân viên về kết quả kinh doanh};
\node[rt, cg] (c8251) at (2019.2,2948.7) {Tự động tổng kết chi phí marketing theo kênh và theo chu kỳ thời gian};
\node[rt, cg] (c8261) at (2091.8,2972.3) {Tự động thông báo đến bộ phận liên quan khi có đơn hàng};
\node[rt, cg] (c8262) at (2091.8,2995.9) {Tự động cảnh báo đến bộ phận quản lý khi số sản phẩm trong kho dưới hạn mức};

% core connectors
\rkids[24.7pt]{lnb}{core}{c1,c2,c3,c4,c5,c6,c7,c8}
\rkids{lnb}{c1}{c11,c12,c13}
\rkids{lnb}{c11}{c111,c112}
\rkids{lnb}{c12}{c121,c122}
\rkids{lnb}{c13}{c131,c132}
\rkids{lnb}{c2}{c21,c22,c23,c24}
\rkids{lnb}{c21}{c211,c212,c213}
\rlink{lnb}{c22}{c221}
\rlink{lnb}{c221}{k1}
\rlink{lnb}{c23}{c231}
\rkids{lnb}{c231}{c2311,c2312,c2313,c2314,c2315,c2316,c2317,c2318}
\rkids{lnb}{c24}{c241,c242}
\rlink{lnb}{c241}{k2}
\rkids{lnb}{c3}{c31,c33}
\rlink{lnb}{c33}{c331}
\rkids{lnb}{c31}{c311,c312,c313,c314,c315,c316}
\rkids{lnb}{c311}{c3111,c3112}
\rkids{lnb}{c312}{c3121,c3122,c3123,c3124,c3125,c3126,c3127,c3128,c3129,c31210}
\rlink{lnb}{c3122}{n3122}
\rkids{lnb}{c313}{c3131,c3132,c3133,c3134,c3135,c3136}
\rkids{lnb}{c314}{c3141,c3142,c3143,c3144,c3145}
\rkids{lnb}{c315}{c3151,c3152,c3153,c3154,c3155}
\rkids{lnb}{c316}{c3161,c3162,c3163,c3164,c3165,c3166}
\rkids{lnb}{c4}{c41,c42,c43,c44,c45,c46}
\rlink{lnb}{c41}{c411}
\rlink{lnb}{c42}{c421}
\rlink{lnb}{c421}{k3}
\rlink{lnb}{c43}{c431}
\rkids{lnb}{c431}{c4311,c4312,c4313,c4314,c4315,c4316,k4}
\rlink{lnb}{c44}{c441}
\rlink{lnb}{c441}{k5}
\rkids{lnb}{c45}{c451,c452,c453}
\rkids{lnb}{c451}{c4511,c4512,c4513}
\rkids{lnb}{c452}{c4521,c4522}
\rlink{lnb}{c46}{c461}
\rlink{lnb}{c5}{c51}
\rkids[26.5pt]{lnb}{c51}{c511,c512,c513,c514}
\rkids{lnb}{c7}{c71,c72,c73,c74}
\rkids{lnb}{c71}{c711,c712}
\rkids{lnb}{c711}{c7111,c7112}
\rkids{lnb}{c72}{c721,c722,c723}
\rkids{lnb}{c721}{c7211,c7212}
\rkids{lnb}{c722}{c7221,c7222,c7223,c7224,c7225,c7226,c7227,c7228}
\rlink{lnb}{c723}{c7231}
\rkids{lnb}{c73}{c731,c732,c733}
\rkids{lnb}{c731}{c7311,c7312,c7313,c7314}
\rkids{lnb}{c74}{c741,c742}
\rkids{lnb}{c8}{c81,c82}
\rkids{lnb}{c81}{c811,c812}
\rkids{lnb}{c82}{c821,c822,c823,c824,c825,c826}
\rlink{lnb}{c821}{c8211}
\rkids{lnb}{c822}{c8221,c8222,c8223}
\rkids{lnb}{c8221}{c82211,c82212,c82213,c82214}
\rkids{lnb}{c8222}{c82221,c82222}
\rkids{lnb}{c8223}{c82231,c82232,c82233,c82234}
\rkids{lnb}{c823}{c8231,c8232}
\rkids{lnb}{c824}{c8241,c8242}
\rlink{lnb}{c825}{c8251}
\rkids{lnb}{c826}{c8261,c8262}
\end{tikzpicture}
\end{document}
